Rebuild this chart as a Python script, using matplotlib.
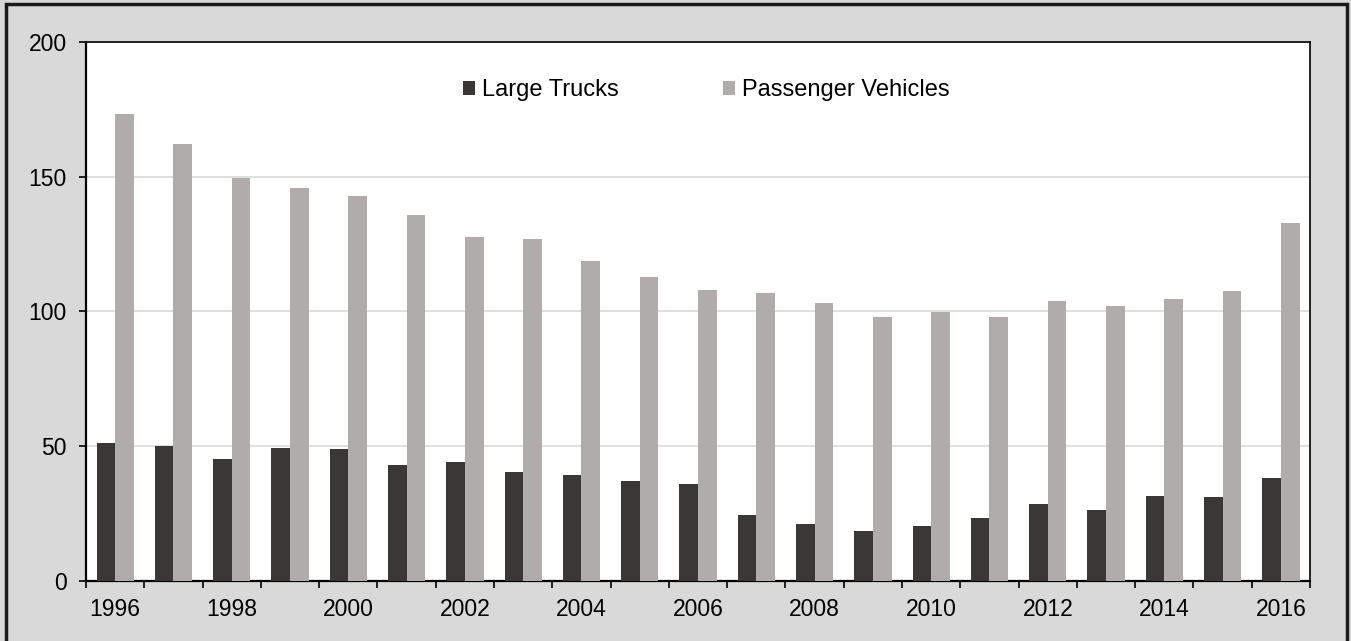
import numpy as np
import matplotlib.pyplot as plt
from matplotlib.patches import Rectangle

# data
years = list(range(1996, 2017))
large_trucks = [51.2, 50.1, 45.3, 49.5, 48.9, 42.9, 44.0, 40.6, 39.3, 37.0, 35.9,
                24.5, 21.0, 18.7, 20.4, 23.3, 28.7, 26.3, 31.7, 31.1, 38.1]
passenger_vehicles = [173.2, 162.0, 149.4, 145.9, 143.0, 135.8, 127.6, 126.9, 118.6, 112.7, 108.0,
                      106.9, 103.3, 98.0, 99.8, 98.0, 103.9, 102.0, 104.5, 107.5, 132.8]
series_names = ['Large Trucks', 'Passenger Vehicles']

plt.rcParams['font.family'] = ['Liberation Sans', 'DejaVu Sans']

fig = plt.figure(figsize=(13.51, 6.41), dpi=100, facecolor='#d9d9d9')
ax = fig.add_axes([0.0637, 0.0936, 0.906, 0.8409])
ax.set_facecolor('white')

x = np.arange(len(years))
w = 0.32
ax.bar(x - w / 2, large_trucks, w, color='#3a3836', label=series_names[0], zorder=3)
ax.bar(x + w / 2, passenger_vehicles, w, color='#afacab', label=series_names[1], zorder=3)

ax.set_ylim(0, 200)
ax.set_xlim(-0.5, len(years) - 0.5)
ax.set_yticks([0, 50, 100, 150, 200])
ax.yaxis.grid(True, color='#d9d9d9', lw=1.2, zorder=0)

# tick marks between categories, labels on every second year
ax.set_xticks(np.arange(-0.5, len(years)))
ax.set_xticklabels([])
ax.set_xticks(x[::2], minor=True)
ax.set_xticklabels([str(y) for y in years[::2]], minor=True)
ax.tick_params(axis='x', which='major', direction='out', length=5, width=1.2)
ax.tick_params(axis='x', which='minor', length=0, pad=12, labelsize=16.5)
ax.tick_params(axis='y', direction='out', length=5, width=1.2, pad=9, labelsize=16.5)

for s in ax.spines.values():
    s.set_linewidth(1.2)
    s.set_color('black')
ax.spines['left'].set_linewidth(1.6)
ax.spines['bottom'].set_linewidth(1.6)

ax.legend(loc='upper center', bbox_to_anchor=(0.507, 0.97), ncol=2, frameon=False,
          fontsize=17, handlelength=0.52, handleheight=0.52, handletextpad=0.3,
          columnspacing=4.4)

# outer border
fig.patches.append(Rectangle((0.0045, -0.01), 0.9925, 1.0035, transform=fig.transFigure,
                             fill=False, edgecolor='#1a1a1a', lw=2.5))

fig.savefig('out.png', dpi=100, facecolor=fig.get_facecolor())
